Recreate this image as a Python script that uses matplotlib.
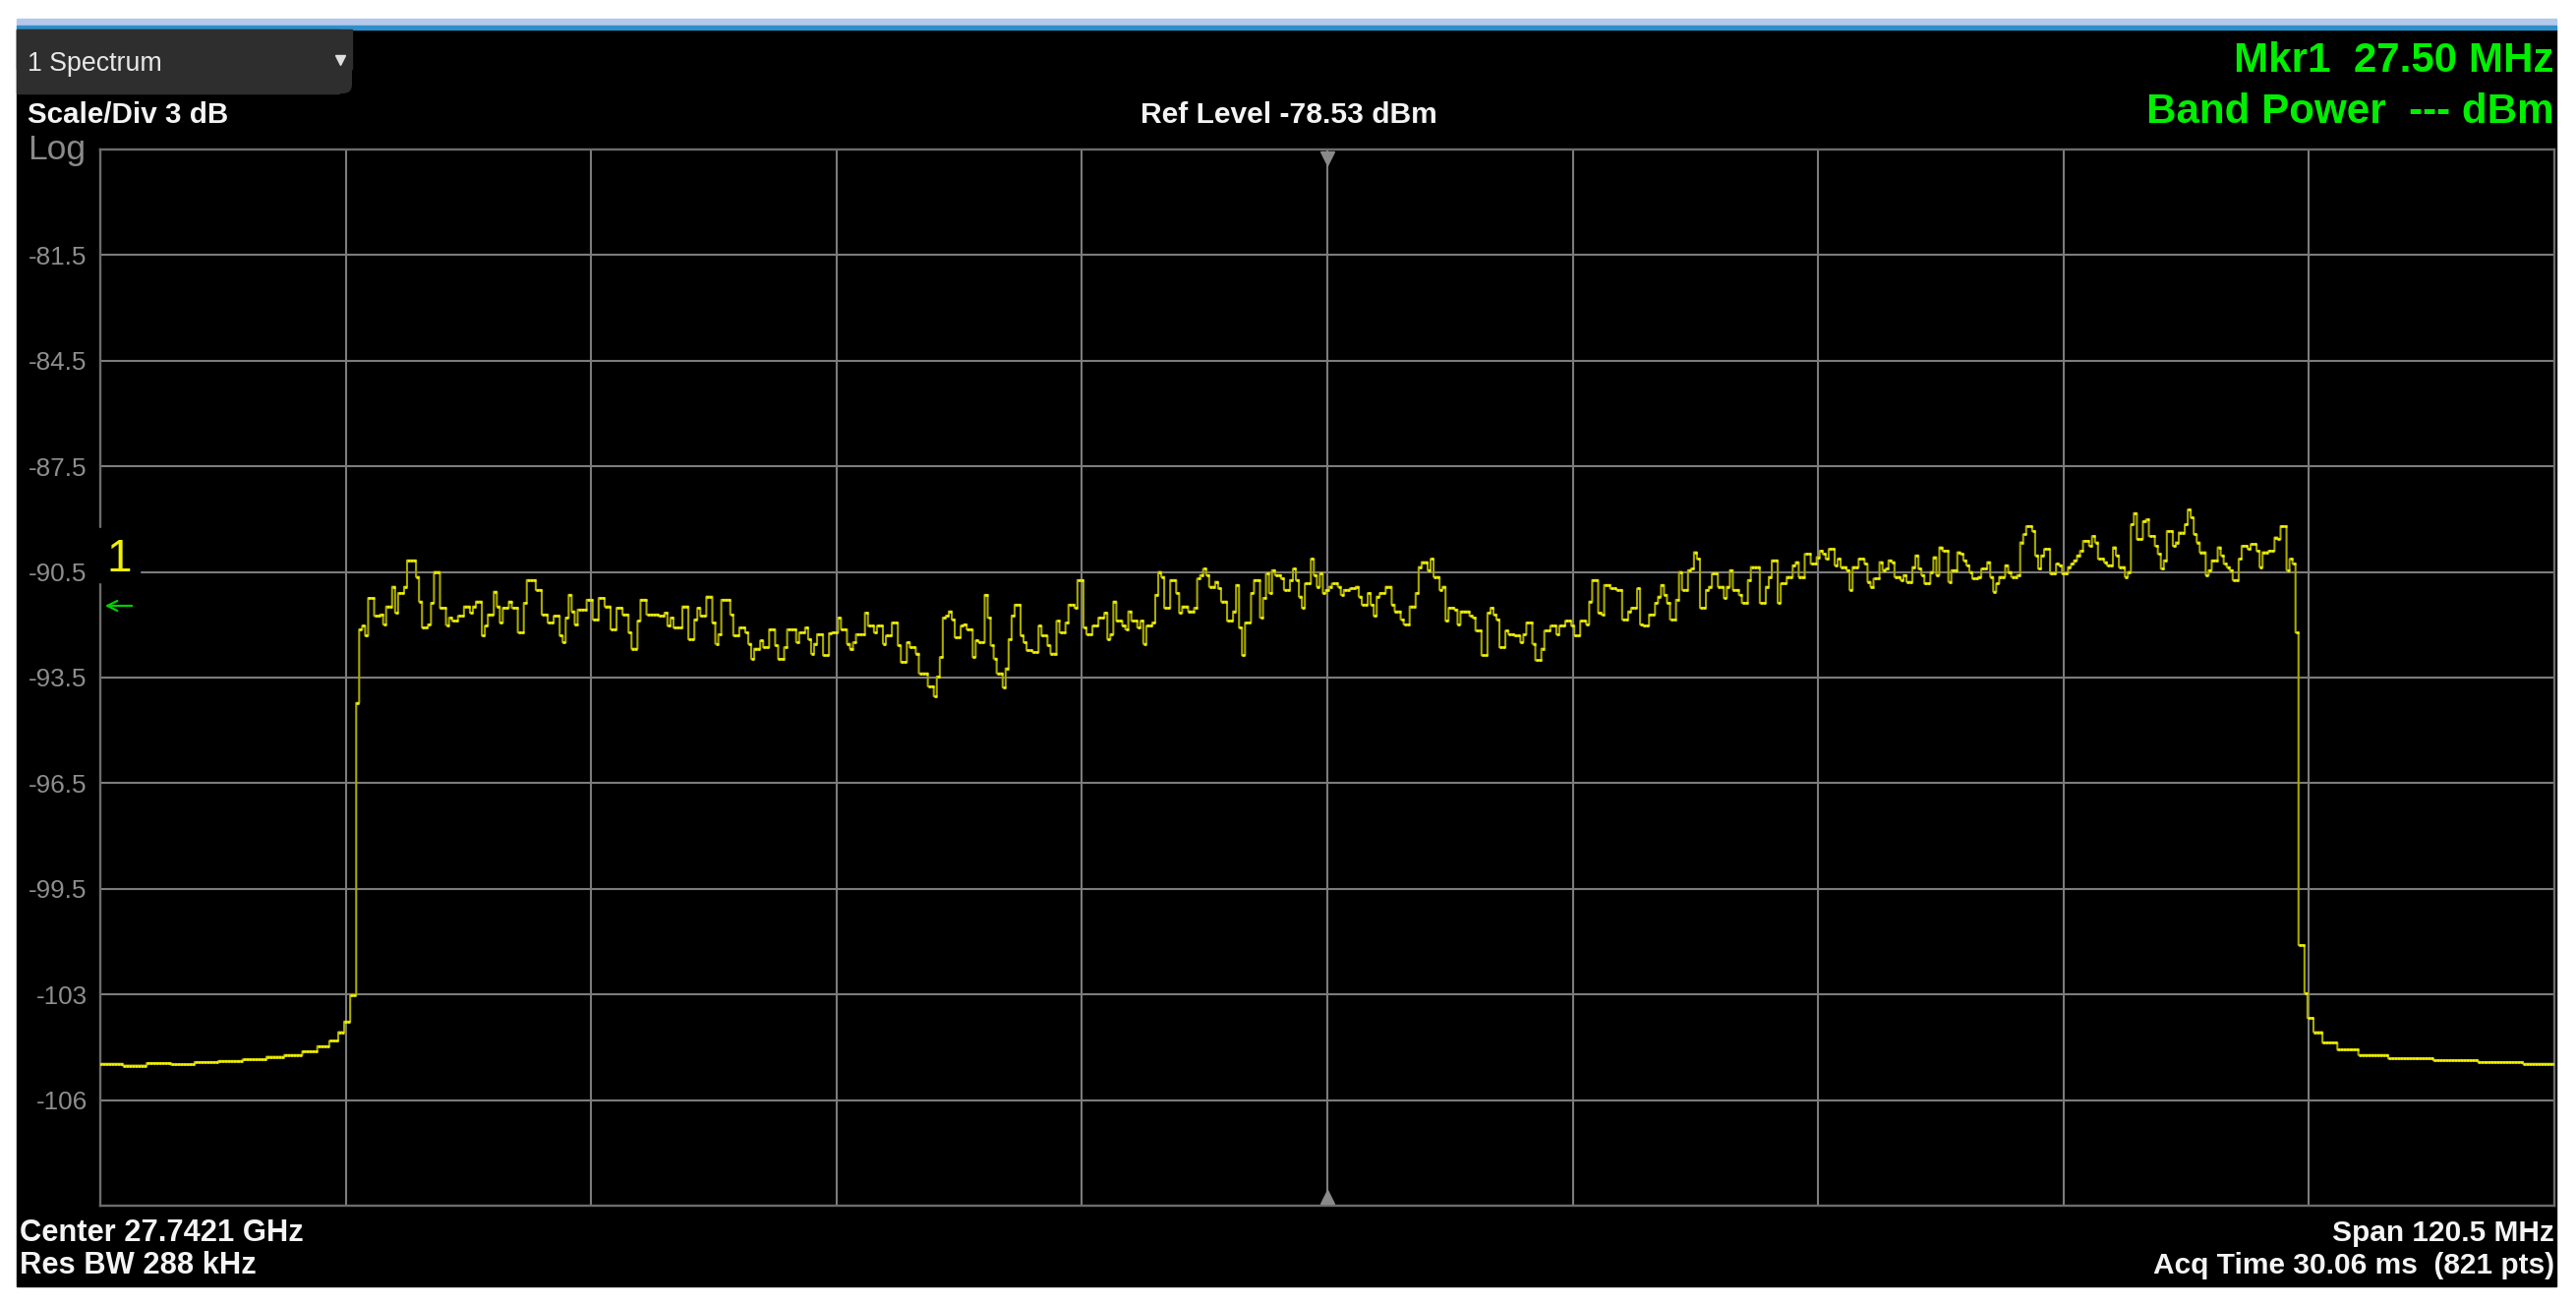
import numpy as np
import matplotlib
matplotlib.use("Agg")
import matplotlib.pyplot as plt
from matplotlib.patches import Rectangle, FancyBboxPatch, FancyArrowPatch
from matplotlib.lines import Line2D
from matplotlib.transforms import IdentityTransform

# ---------------- data ----------------
center_ghz = 27.7421
span_mhz = 120.5
n_points = 821
ref_level_dbm = -78.53
scale_db_per_div = 3.0
n_divs = 10

ytick_labels = ["-81.5", "-84.5", "-87.5", "-90.5", "-93.5", "-96.5", "-99.5", "-103", "-106"]

# trace breakpoints: sweep point index where a level starts, and the level (dBm)
trace_idx = [
    0, 8, 16, 24, 32, 40, 48, 56, 62, 68, 73, 77, 80, 82, 84,
    86, 87, 88, 89, 90, 92, 94, 95, 96, 98, 99, 100, 102, 103, 106, 107, 108, 110, 111, 112,
    114, 116, 117, 118, 120, 122, 124, 125, 126, 128, 129, 130, 132, 133, 134, 135, 137, 138,
    140, 142, 143, 146, 148, 150, 152, 154, 155, 156, 157, 158, 159, 160, 163, 165, 167, 169,
    171, 173, 175, 177, 178, 180, 181, 183, 187, 189, 190, 191, 192, 195, 197, 199, 200, 201,
    203, 205, 206, 207, 208, 211, 212, 214, 216, 217, 218, 219, 221, 222, 224, 226, 227, 229,
    230, 233, 234, 236, 237, 238, 239, 240, 242, 244,
    245, 247, 248, 250, 251, 252, 253, 256, 257, 259, 260, 262, 263, 265, 267, 268, 270, 271,
    273, 274, 277, 279, 280, 281, 282, 283, 284, 285, 286, 288, 289, 290, 292, 293, 294, 296,
    297, 298, 299, 300, 302, 303, 304, 305, 306, 308, 309, 310, 312, 314, 315, 317, 318, 320,
    321, 323, 324, 326, 327, 329, 330, 332, 334, 336, 337, 338, 339, 340, 342, 343, 344, 345,
    347, 348, 349, 350, 352, 353, 354, 355, 356, 358, 360, 361, 362, 364, 366, 367, 368, 369,
    370, 371, 373, 374, 375, 377, 379, 380, 381, 382, 383, 385, 386, 388, 389, 390, 391, 392,
    393, 395, 396, 398, 399, 400, 401, 402, 403, 405, 406, 407, 408, 409,
    410, 411, 412, 414, 415, 416, 418, 420, 421, 422, 424, 425, 426, 427, 428, 430, 432, 433,
    435, 436, 438, 440, 441, 442, 444, 445, 446, 448, 449, 450, 451, 453, 454, 455, 458, 459,
    460, 462, 464, 465, 466, 467, 468, 470, 471, 473, 475, 476, 477, 479, 480, 482, 483, 485,
    487, 488, 490, 492, 493, 495, 497, 498, 499, 501, 502, 503, 505, 507, 509, 511, 512, 514,
    515, 516, 518, 520, 521, 522, 523, 524, 525, 527, 528, 529, 531, 532, 533, 534, 535, 537,
    538, 539, 541, 543, 544, 545, 546, 548, 549, 551, 552, 555, 557, 558, 559, 561, 562, 564,
    566, 567, 568, 570, 572,
    573, 574, 575, 576, 577, 578, 580, 581, 582, 584, 585, 586, 588, 590, 591, 592, 593, 595,
    596, 597, 598, 599, 600, 602, 603, 604, 606, 607, 608, 609, 610, 612, 613, 614, 615, 616,
    618, 619, 621, 622, 623, 624, 625, 626, 628, 629, 631, 632, 633, 634, 635, 637, 638, 639,
    641, 642, 643, 644, 646, 647, 648, 649, 650, 652, 654, 655, 656, 658, 659, 660, 661, 662,
    663, 665, 666, 667, 668, 670, 671, 673, 674, 675, 677, 678, 679, 680, 681, 683, 684, 685,
    687, 688, 689, 690, 691, 693, 694, 695, 697, 698, 699, 700, 701, 702, 704, 705, 706, 708,
    709, 710, 711, 712, 713, 715, 716, 718, 719, 721, 722, 723, 725, 727, 728, 729, 731, 732,
    733, 734,
    735, 737, 738, 740, 743, 748, 755, 765, 780, 795, 810,
]
trace_dbm = [
    -104.50, -104.55, -104.48, -104.52, -104.45, -104.42, -104.38, -104.30, -104.25, -104.15,
    -104.00, -103.85, -103.60, -103.30, -102.55,
    -94.25, -92.16, -92.06, -92.34, -91.27, -91.78, -91.74, -92.02, -91.51, -90.95, -91.69,
    -91.13, -90.95, -90.20, -90.67, -91.37, -92.11, -92.02, -91.41, -90.53,
    -91.55, -92.04, -91.83, -91.92, -91.78, -91.51, -91.69, -91.51, -91.37, -92.34, -92.06,
    -91.74, -91.09, -91.51, -91.97, -91.55, -91.37, -91.55,
    -92.25, -91.41, -90.76, -91.04, -91.74, -91.97, -91.78, -92.34, -92.53, -91.83, -91.18,
    -91.65, -92.02, -91.60, -91.32, -91.88, -91.27, -91.51,
    -92.16, -91.55, -91.74, -92.25, -92.71, -91.92, -91.32, -91.74, -91.78, -91.69, -92.06,
    -91.83, -92.11, -91.51, -92.44, -91.88, -91.55, -91.78,
    -91.23, -91.97, -92.57, -92.30, -91.32, -91.74, -92.34, -92.11, -92.25, -92.57, -93.00,
    -92.71, -92.48, -92.67, -92.16, -92.62, -93.00, -92.67,
    -92.16, -92.53, -92.25, -92.11, -92.44, -92.85, -92.57, -92.30, -92.90, -92.27,
    -92.25, -91.83, -92.16, -92.57, -92.71, -92.53, -92.30, -91.69, -92.06, -92.25, -92.06,
    -92.57, -92.34, -91.97, -92.62, -93.09, -92.53, -92.67,
    -92.85, -93.41, -93.78, -94.06, -93.50, -92.95, -91.83, -91.78, -91.65, -91.88, -92.39,
    -92.06, -92.02, -92.16, -92.95, -92.48, -92.53, -91.18,
    -91.83, -92.62, -92.99, -93.41, -93.81, -93.27, -92.44, -91.77, -91.46, -92.34, -92.53,
    -92.76, -92.81, -92.06, -92.34, -92.62, -92.85, -91.92,
    -92.25, -91.97, -91.46, -91.55, -90.76, -92.11, -92.30, -92.06, -91.83, -91.69, -92.44,
    -92.30, -91.37, -91.92, -92.06, -92.16, -91.65, -91.92,
    -92.11, -91.92, -92.57, -92.06, -91.97, -91.18, -90.53, -90.67, -91.55, -90.76, -91.13,
    -91.69, -91.51, -91.65, -91.55, -90.72, -90.62, -90.44,
    -90.62, -90.95, -90.81, -91.00, -91.37, -91.92, -91.65, -90.90, -92.11, -92.90, -91.97,
    -91.13, -90.76, -91.83, -91.27, -90.58, -91.13, -90.48,
    -90.62, -90.72, -91.04, -90.76, -90.44, -90.76, -91.23, -91.55, -90.86, -90.16, -90.62,
    -90.95, -90.58, -91.13,
    -91.04, -90.95, -90.86, -90.95, -91.18, -91.04, -91.00, -90.95, -91.23, -91.46, -91.13,
    -91.46, -91.78, -91.23, -91.13, -90.95, -91.46, -91.65,
    -91.88, -92.02, -91.51, -91.13, -90.39, -90.25, -90.48, -90.16, -90.67, -91.04, -90.95,
    -91.92, -91.55, -91.60, -92.02, -91.65, -91.78, -91.83,
    -92.20, -92.90, -91.69, -91.55, -91.74, -91.88, -92.67, -92.20, -92.30, -92.34, -92.53,
    -92.30, -91.97, -92.57, -93.04, -92.71, -92.20, -92.06,
    -92.30, -92.06, -91.92, -92.06, -92.34, -91.92, -92.02, -91.37, -90.76, -91.69, -91.74,
    -90.90, -91.00, -91.04, -91.88, -91.65, -91.55, -91.00,
    -92.02, -92.06, -91.74, -91.41, -91.23, -90.90, -91.18, -91.41, -91.88, -91.32, -90.53,
    -91.04, -90.48, -90.44, -89.97, -90.16, -91.55, -91.04,
    -90.95, -90.58, -90.95, -91.27, -90.95, -90.48, -91.04, -91.18, -91.41, -90.76, -90.39,
    -91.41, -90.95, -90.67, -90.20, -91.41, -90.86, -90.67,
    -90.34, -90.25, -90.67, -90.02, -90.30,
    -90.30, -90.11, -89.93, -90.02, -90.16, -89.88, -90.34, -90.16, -90.39, -90.48, -91.04,
    -90.39, -90.16, -90.30, -90.81, -90.95, -90.72, -90.25,
    -90.48, -90.44, -90.20, -90.25, -90.67, -90.76, -90.62, -90.81, -90.39, -90.06, -90.44,
    -90.62, -90.86, -90.53, -90.11, -90.62, -89.83, -89.93,
    -90.81, -90.48, -89.97, -90.02, -90.20, -90.34, -90.53, -90.72, -90.67, -90.44, -90.25,
    -90.67, -91.09, -90.86, -90.67, -90.34, -90.53, -90.67,
    -90.62, -89.69, -89.46, -89.23, -89.37, -90.06, -90.44, -90.06, -89.88, -90.58, -90.30,
    -90.34, -90.58, -90.39, -90.30, -90.20, -90.06, -89.93,
    -89.65, -89.79, -89.51, -89.69, -90.16, -90.25, -90.34, -89.83, -90.06, -90.39, -90.67,
    -90.53, -89.18, -88.86, -89.60, -89.09, -89.04, -89.51,
    -89.79, -90.02, -90.44, -90.20, -89.37, -89.79, -89.69, -89.41, -89.18, -88.76, -88.99,
    -89.46, -89.69, -89.97, -90.62, -90.48, -90.20, -89.83,
    -90.06, -90.30, -90.39, -90.48, -90.76, -90.16, -89.79, -89.88, -89.74, -89.93, -90.39,
    -89.97, -89.93, -89.55, -89.60, -89.23, -90.48, -90.16,
    -90.30, -92.25,
    -101.13, -102.50, -103.20, -103.60, -103.90, -104.10, -104.25, -104.35, -104.40, -104.45, -104.50,
]

# ---------------- figure geometry (pixels) ----------------
W, H = 2620, 1328
DPI = 100


def fx(x):
    return x / W


def fy(y):
    return 1 - y / H


UI = ["Liberation Sans", "DejaVu Sans"]
TAB = "#2e2e2e"

fig = plt.figure(figsize=(W / DPI, H / DPI), dpi=DPI, facecolor="white")

# instrument frame
fig.add_artist(Rectangle((fx(17), fy(1308)), (2600 - 17) / W, (1308 - 30) / H,
                         transform=fig.transFigure, color="black", zorder=0))
fig.add_artist(Rectangle((fx(17), fy(26)), (2600 - 17) / W, (26 - 19) / H,
                         transform=fig.transFigure, color="#b4c8ec", zorder=0))
fig.add_artist(Rectangle((fx(17), fy(30)), (2600 - 17) / W, 4 / H,
                         transform=fig.transFigure, color="#2f8fc8", zorder=0))

# tab "1 Spectrum" (square except the lower-right corner)
tab = FancyBboxPatch((17, H - 95), 341, 65, boxstyle="round,pad=0,rounding_size=9",
                     transform=IdentityTransform(), facecolor=TAB, edgecolor="none", zorder=1)
fig.add_artist(tab)
fig.add_artist(Rectangle((fx(17), fy(70)), (358 - 17) / W, 40 / H,
                         transform=fig.transFigure, color=TAB, zorder=1))
fig.add_artist(Rectangle((fx(17), fy(95)), (345 - 17) / W, 65 / H,
                         transform=fig.transFigure, color=TAB, zorder=1))
fig.text(fx(28), fy(72), "1 Spectrum", color="#e8e8e8", fontsize=19.3, family=UI,
         ha="left", va="baseline", zorder=2)
fig.add_artist(Line2D([fx(346)], [fy(61)], marker="v", markersize=7, color="#e0e0e0",
                      transform=fig.transFigure, zorder=2))

# header texts
fig.text(fx(28), fy(125), "Scale/Div 3 dB", color="#f4f4f4", fontsize=21.3, family=UI,
         fontweight="bold", ha="left", va="baseline")
fig.text(fx(28), fy(162), "Log", color="#8a8a8a", fontsize=25.5, family=UI,
         ha="left", va="baseline")
fig.text(fx(1160), fy(125), "Ref Level -78.53 dBm", color="#f4f4f4", fontsize=21.6, family=UI,
         fontweight="bold", ha="left", va="baseline")
fig.text(fx(2598), fy(73), "Mkr1  27.50 MHz", color="#00ee00", fontsize=30.3, family=UI,
         fontweight="bold", ha="right", va="baseline")
fig.text(fx(2598), fy(125), "Band Power  --- dBm", color="#00ee00", fontsize=30.3, family=UI,
         fontweight="bold", ha="right", va="baseline")

# footer texts
fig.text(fx(20), fy(1262), "Center 27.7421 GHz", color="#f4f4f4", fontsize=22.2, family=UI,
         fontweight="bold", ha="left", va="baseline")
fig.text(fx(20), fy(1295), "Res BW 288 kHz", color="#f4f4f4", fontsize=22.2, family=UI,
         fontweight="bold", ha="left", va="baseline")
fig.text(fx(2598), fy(1262), "Span 120.5 MHz", color="#f4f4f4", fontsize=21.5, family=UI,
         fontweight="bold", ha="right", va="baseline")
fig.text(fx(2598), fy(1295), "Acq Time 30.06 ms  (821 pts)", color="#f4f4f4", fontsize=21.5,
         family=UI, fontweight="bold", ha="right", va="baseline")

# ---------------- plot area ----------------
ax = fig.add_axes([fx(102), fy(1226), (2598 - 102) / W, (1226 - 152) / H])
ax.set_facecolor("black")

f_start = center_ghz - span_mhz / 2000.0
f_stop = center_ghz + span_mhz / 2000.0
freq = np.linspace(f_start, f_stop, n_points)
df = freq[1] - freq[0]

bp_idx = np.asarray(trace_idx)
bp_val = np.asarray(trace_dbm)
pts = np.arange(n_points)
level = bp_val[np.searchsorted(bp_idx, pts, side="right") - 1]

bottom = ref_level_dbm - n_divs * scale_db_per_div
ax.set_xlim(f_start, f_stop)
ax.set_ylim(bottom, ref_level_dbm)

yt = [ref_level_dbm - k * scale_db_per_div for k in range(1, n_divs)]
ax.set_yticks(yt)
ax.set_yticklabels(ytick_labels)
xt = [f_start + k * (f_stop - f_start) / n_divs for k in range(1, n_divs)]
ax.set_xticks(xt)
ax.set_xticklabels([])
ax.tick_params(length=0, labelcolor="#8e8e8e", labelsize=18.8, pad=9.5)
for lab in ax.get_yticklabels():
    lab.set_family(UI)
ax.grid(True, color="#7c7c7c", linewidth=1.5, zorder=1)
for s in ax.spines.values():
    s.set_color("#6c6c6c")
    s.set_linewidth(1.7)

# trace: dim transitions, bright held levels
ax.plot(freq, level, color="#a8a800", linewidth=1.5, drawstyle="steps-mid", zorder=3)
ax.hlines(level, freq - df / 2, freq + df / 2, colors="#f4f400", linewidth=1.9, zorder=4)

# center markers
ax.plot([center_ghz], [ref_level_dbm - 0.25], marker="v", markersize=10, color="#8a8a8a",
        linestyle="none", zorder=5, clip_on=False)
ax.plot([center_ghz], [bottom + 0.25], marker="^", markersize=10, color="#8a8a8a",
        linestyle="none", zorder=5, clip_on=False)

# marker "1" badge and arrow
fig.add_artist(Rectangle((fx(96), fy(592)), (142 - 96) / W, (592 - 537) / H,
                         transform=fig.transFigure, color="black", zorder=5))
fig.text(fx(109), fy(581), "1", color="#f0f000", fontsize=33, family=UI,
         ha="left", va="baseline", zorder=6)
fig.add_artist(FancyArrowPatch((fx(137), fy(616)), (fx(104), fy(616)),
                               transform=fig.transFigure, arrowstyle="->", mutation_scale=18,
                               color="#00d000", linewidth=1.6, zorder=6))

fig.savefig("out.png", dpi=DPI, facecolor="white")
